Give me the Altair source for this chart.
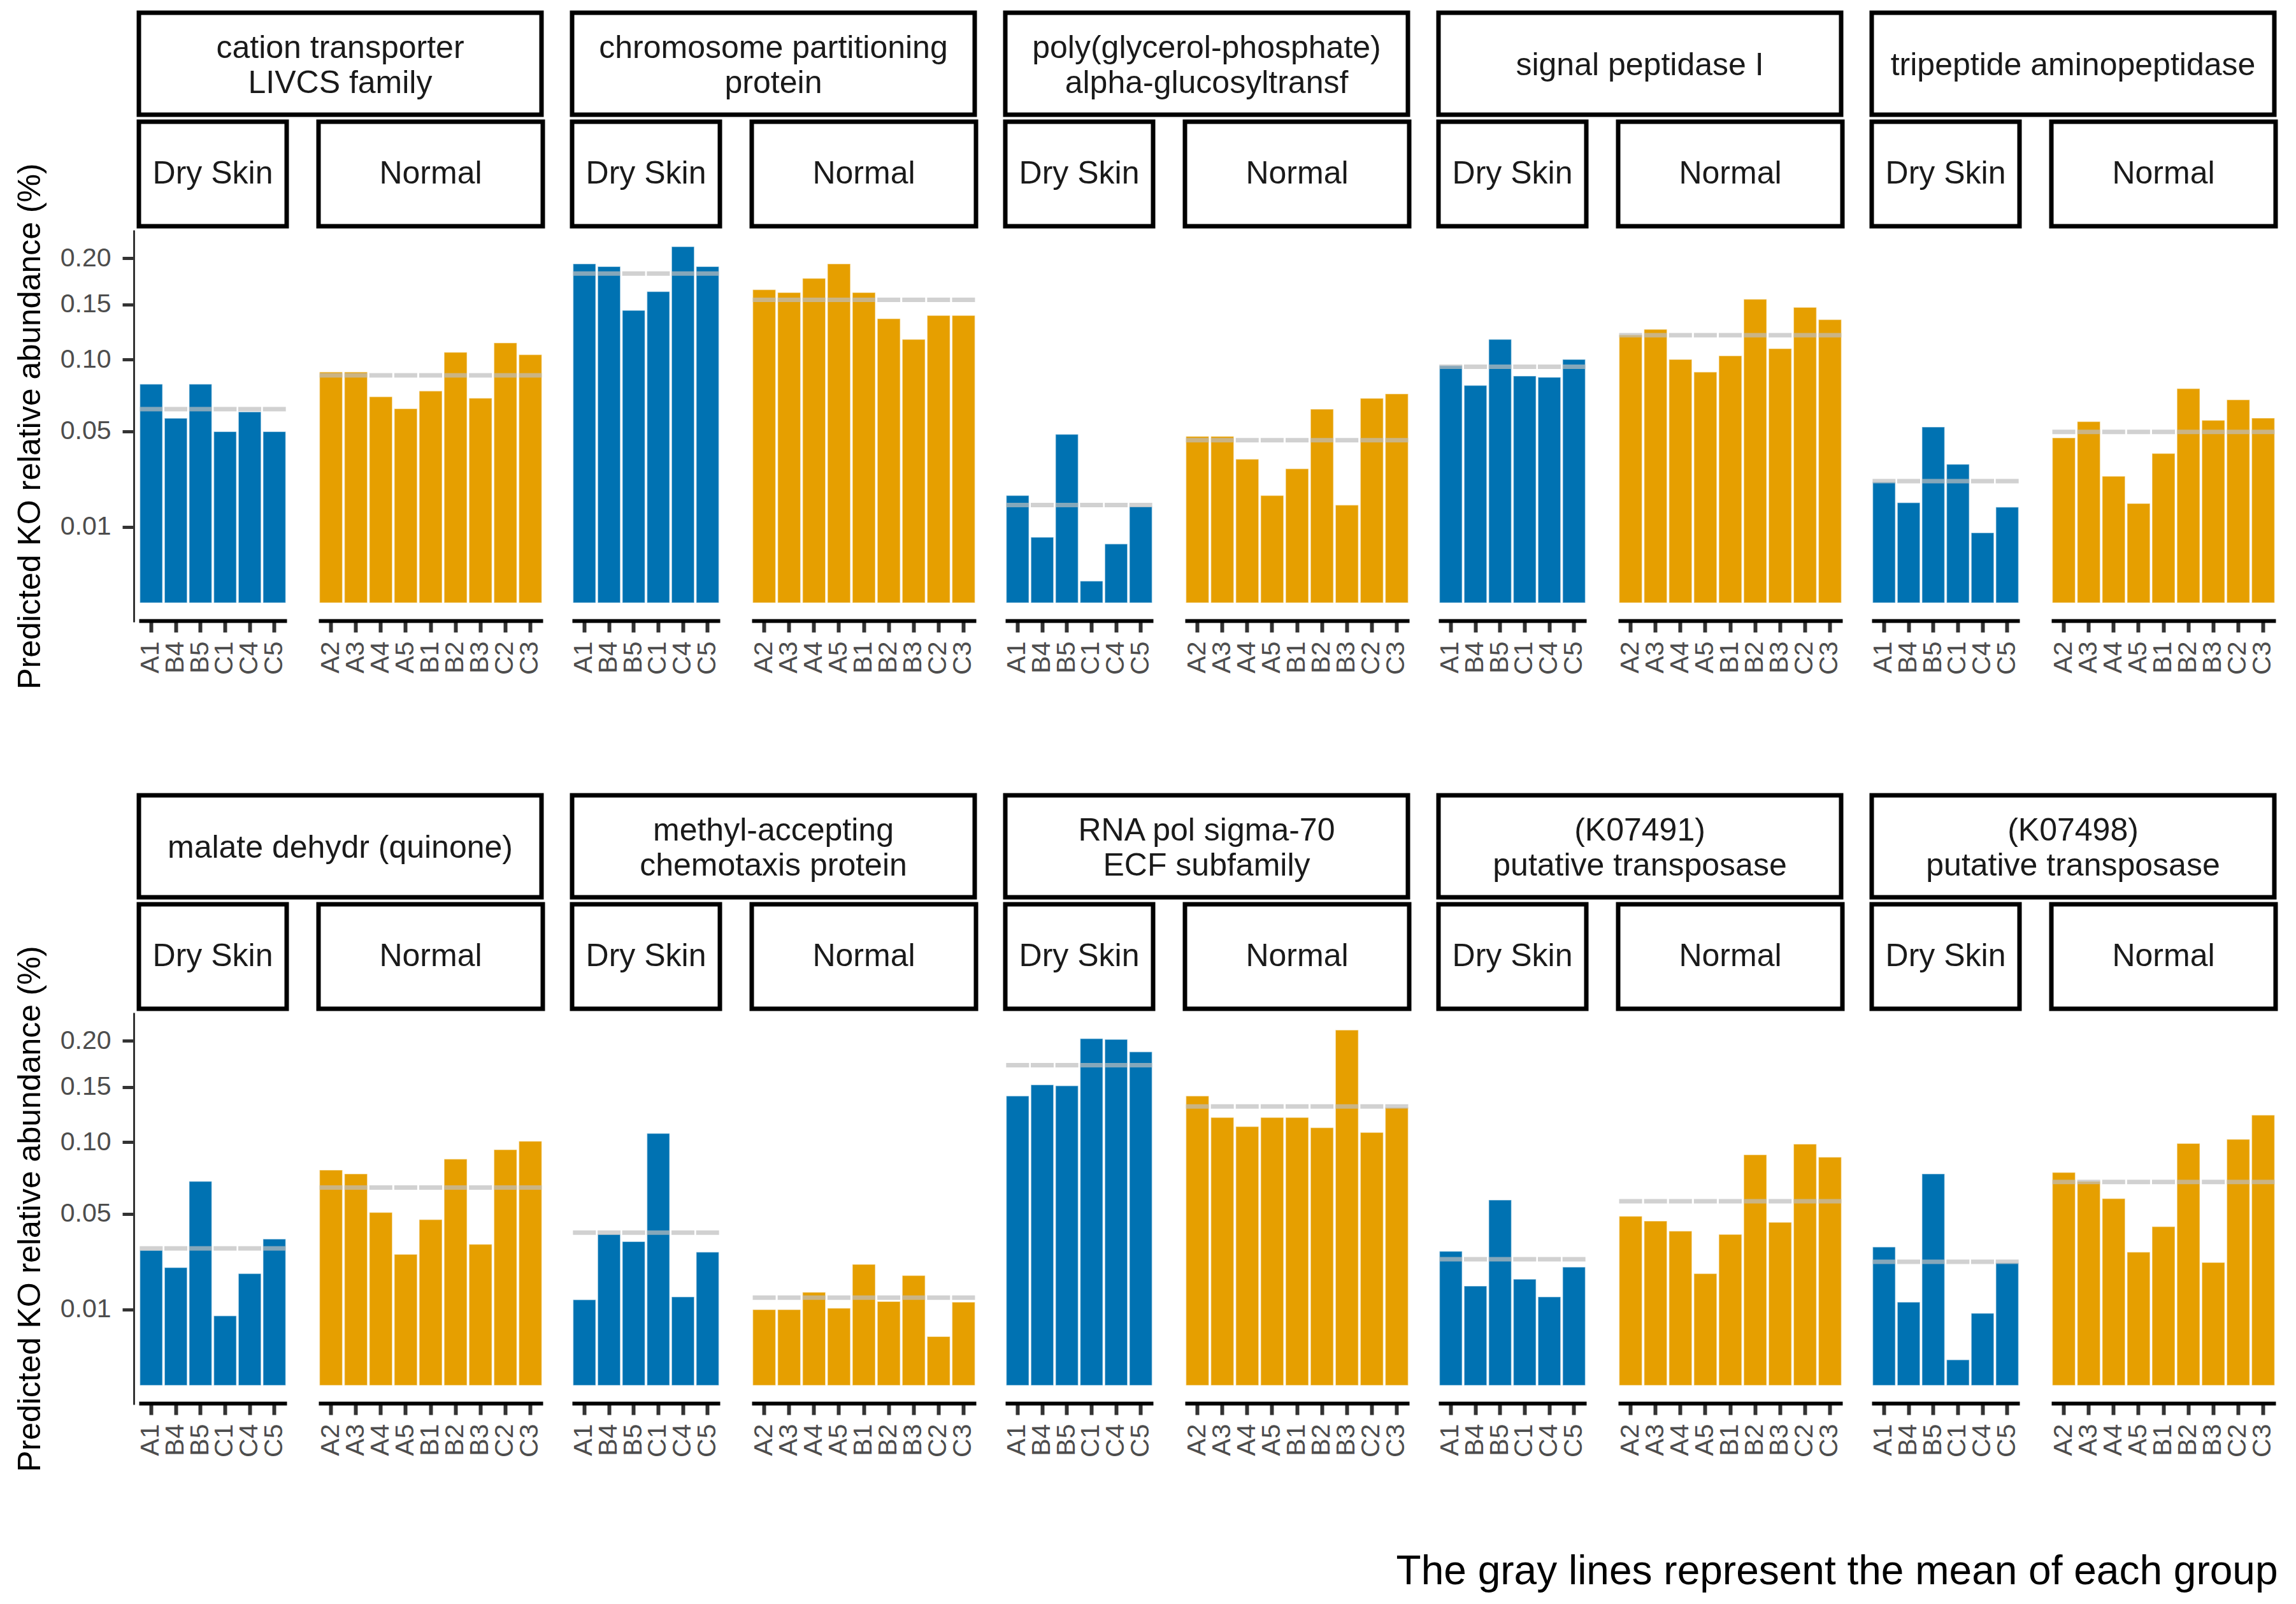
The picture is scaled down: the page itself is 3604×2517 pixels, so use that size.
import altair as alt
import pandas as pd

# ---------------- data ----------------
GROUPS = ["Dry Skin", "Normal"]
DRY_SAMPLES = ["A1", "B4", "B5", "C1", "C4", "C5"]
NORMAL_SAMPLES = ["A2", "A3", "A4", "A5", "B1", "B2", "B3", "C2", "C3"]

KO_NAMES = [
    "cation transporter\nLIVCS family",
    "chromosome partitioning\nprotein",
    "poly(glycerol-phosphate)\nalpha-glucosyltransf",
    "signal peptidase I",
    "tripeptide aminopeptidase",
    "malate dehydr (quinone)",
    "methyl-accepting\nchemotaxis protein",
    "RNA pol sigma-70\nECF subfamily",
    "(K07491)\nputative transposase",
    "(K07498)\nputative transposase",
]

DRY_VALUES = [
    [0.080, 0.057, 0.080, 0.049, 0.061, 0.049],
    [0.192, 0.189, 0.143, 0.162, 0.212, 0.189],
    [0.0193, 0.0072, 0.0475, 0.0008, 0.0058, 0.0155],
    [0.094, 0.079, 0.116, 0.086, 0.085, 0.099],
    [0.0244, 0.0168, 0.0517, 0.0321, 0.0082, 0.0153],
    [0.0305, 0.0232, 0.0696, 0.0081, 0.0209, 0.0358],
    [0.0123, 0.0381, 0.0346, 0.1062, 0.0131, 0.0297],
    [0.140, 0.151, 0.150, 0.201, 0.200, 0.186],
    [0.0301, 0.0165, 0.0575, 0.0189, 0.0131, 0.0234],
    [0.0320, 0.0116, 0.0748, 0.0011, 0.0087, 0.0251],
]

NORMAL_VALUES = [
    [0.089, 0.089, 0.071, 0.063, 0.075, 0.105, 0.070, 0.113, 0.103],
    [0.164, 0.161, 0.176, 0.192, 0.161, 0.135, 0.116, 0.138, 0.138],
    [0.0463, 0.0463, 0.0345, 0.0193, 0.0301, 0.0627, 0.0160, 0.0699, 0.0730],
    [0.120, 0.125, 0.099, 0.089, 0.102, 0.154, 0.108, 0.146, 0.134],
    [0.0455, 0.0549, 0.0268, 0.0165, 0.0373, 0.0767, 0.0557, 0.0689, 0.0571],
    [0.0775, 0.0748, 0.0500, 0.0287, 0.0460, 0.0857, 0.0333, 0.0929, 0.0997],
    [0.0096, 0.0096, 0.0145, 0.0100, 0.0245, 0.0118, 0.0202, 0.0040, 0.0116],
    [0.140, 0.120, 0.112, 0.120, 0.120, 0.111, 0.211, 0.107, 0.129],
    [0.0478, 0.0452, 0.0398, 0.0209, 0.0381, 0.0889, 0.0445, 0.0974, 0.0871],
    [0.0758, 0.0696, 0.0584, 0.0297, 0.0422, 0.0978, 0.0253, 0.1012, 0.1221],
]

Y_TICKS = [0.01, 0.05, 0.10, 0.15, 0.20]
Y_DOMAIN = [-0.00053, 0.2338]
Y_TITLE = "Predicted KO relative abundance (%)"
CAPTION = "The gray lines represent the mean of each group"

rows = []
for i, (dv, nv) in enumerate(zip(DRY_VALUES, NORMAL_VALUES)):
    for s, v in zip(DRY_SAMPLES, dv):
        rows.append({"ko_id": i, "group": "Dry Skin", "sample": s, "value": v})
    for s, v in zip(NORMAL_SAMPLES, nv):
        rows.append({"ko_id": i, "group": "Normal", "sample": s, "value": v})
df = pd.DataFrame(rows)
ko_df = pd.DataFrame({"ko_id": list(range(len(KO_NAMES))), "ko": KO_NAMES})
grp_df = pd.DataFrame({"group": GROUPS})

# ---------------- layout / style ----------------
FONT = "Liberation Sans"
DRY_W, NORM_W = 232, 352
INNER_SP = 42
PANEL_W = DRY_W + NORM_W + INNER_SP + 6
PANEL_SP = 38
KO_H, GRP_H, PLOT_H = 160, 164, 615
S1, S2 = 3, 0
SW = 7  # strip border width
LINE_H = 55
H_SP = KO_H + GRP_H + 4 * (SW / 2) + S1 + S2
COLORS = {"Dry Skin": "#0072B2", "Normal": "#E69F00"}
SAMPLES = {"Dry Skin": DRY_SAMPLES, "Normal": NORMAL_SAMPLES}
WIDTHS = {"Dry Skin": DRY_W, "Normal": NORM_W}

strip_view = alt.ViewBackground(stroke="black", strokeWidth=SW, fill="white")
yscale = alt.Scale(type="sqrt", domain=Y_DOMAIN, nice=False, zero=False)

xaxis = alt.Axis(
    title=None, labelAngle=270, labelFontSize=41, labelColor="#4D4D4D",
    labelPadding=14, domainColor="black", domainWidth=6,
    tickColor="#333333", tickWidth=6, tickSize=18, labelFont=FONT,
)


def panel(i):
    n_lines = KO_NAMES[i].count("\n") + 1
    ko_strip = (
        alt.Chart(ko_df)
        .transform_filter(alt.FieldEqualPredicate(field="ko_id", equal=i))
        .mark_text(fontSize=50, lineBreak="\n", lineHeight=LINE_H, color="#1A1A1A",
                   align="center", baseline="middle", font=FONT)
        .encode(text="ko:N", x=alt.value(PANEL_W / 2),
                y=alt.value(KO_H / 2 + 3 - (n_lines - 1) * LINE_H / 2))
        .properties(width=PANEL_W, height=KO_H, view=strip_view)
    )
    cols = []
    for g in GROUPS:
        w = WIDTHS[g]
        gstrip = (
            alt.Chart(grp_df)
            .transform_filter(alt.FieldEqualPredicate(field="group", equal=g))
            .mark_text(fontSize=50, color="#1A1A1A", align="center",
                       baseline="middle", font=FONT)
            .encode(text="group:N", x=alt.value(w / 2), y=alt.value(GRP_H / 2))
            .properties(width=w, height=GRP_H, view=strip_view)
        )
        base = (
            alt.Chart(df)
            .transform_filter(alt.FieldEqualPredicate(field="ko_id", equal=i))
            .transform_filter(alt.FieldEqualPredicate(field="group", equal=g))
            .transform_joinaggregate(mean_value="mean(value)")
        )
        x = alt.X("sample:N", sort=SAMPLES[g],
                  scale=alt.Scale(paddingInner=0.08, paddingOuter=0.04), axis=xaxis)
        bars = base.mark_bar(color=COLORS[g], stroke="white", strokeWidth=1.5,
                             strokeOpacity=0.5).encode(
            x=x,
            y=alt.Y("value:Q", scale=yscale, axis=None),
            y2=alt.datum(0),
        )
        means = base.mark_tick(color="#BEBEBE", thickness=7, size=36).encode(
            x=x,
            y=alt.Y("mean_value:Q", scale=yscale, axis=None),
        )
        plot = alt.layer(bars, means).properties(width=w, height=PLOT_H)
        cols.append(alt.vconcat(gstrip, plot, spacing=S2))
    return alt.vconcat(ko_strip, alt.hconcat(*cols, spacing=INNER_SP), spacing=S1)


def axis_col():
    spacer = alt.Chart(grp_df).mark_point(opacity=0).properties(width=2, height=H_SP)
    ax = (
        alt.Chart(df)
        .mark_point(opacity=0)
        .encode(
            y=alt.Y(
                "value:Q",
                scale=yscale,
                axis=alt.Axis(
                    values=Y_TICKS, format=".2f", title=Y_TITLE,
                    labelFontSize=41, labelColor="#4D4D4D", labelPadding=18,
                    tickColor="#333333", tickWidth=5, tickSize=18,
                    domainColor="#333333", domainWidth=3,
                    titleFontSize=50, titleColor="black", titleFontWeight="normal",
                    titlePadding=22, labelFont=FONT, titleFont=FONT,
                ),
            )
        )
        .properties(width=2, height=PLOT_H)
    )
    return alt.vconcat(spacer, ax, spacing=0, bounds="flush")


def row(start):
    first = alt.hconcat(axis_col(), panel(start), spacing=0)
    others = [panel(k) for k in range(start + 1, start + 5)]
    return alt.hconcat(first, *others, spacing=PANEL_SP)


chart = (
    alt.vconcat(row(0), row(5), spacing=162)
    .properties(
        title=alt.TitleParams(
            CAPTION, orient="bottom", anchor="end", fontSize=64,
            fontWeight="normal", color="black", offset=126, font=FONT,
        ),
        padding={"left": 14, "top": 8, "right": 10, "bottom": 0},
    )
    .configure(font=FONT)
    .configure_view(strokeWidth=0)
    .configure_axis(grid=False)
)

chart.save("out.html", embed_options={"renderer": "svg", "actions": False})
